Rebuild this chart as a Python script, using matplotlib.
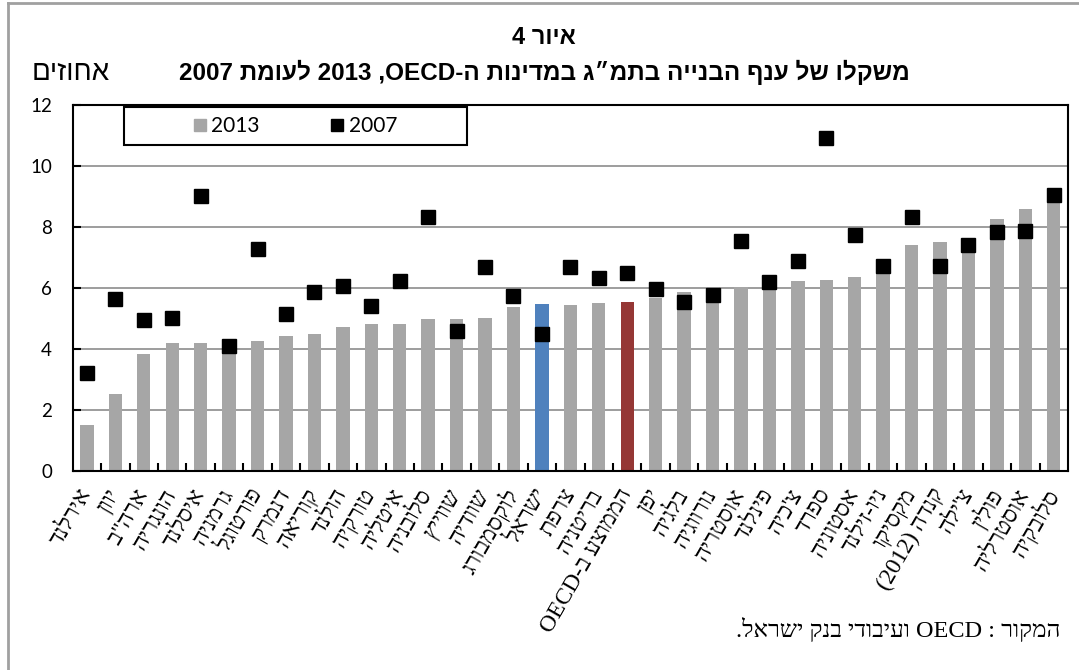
import re
import matplotlib
matplotlib.use('Agg')
import matplotlib.pyplot as plt
from matplotlib.lines import Line2D
from matplotlib.patches import Rectangle

# visual order for hebrew text (matplotlib has no bidi)
def vis(s):
    toks = re.findall(r'[A-Za-z0-9]+|.', s)
    mirror = {'(': ')', ')': '('}
    return ''.join(mirror.get(t, t) for t in reversed(toks))

countries = ['אירלנד', 'יוון', 'ארה"ב', 'הונגריה', 'איסלנד', 'גרמניה', 'פורטוגל',
             'דנמרק', 'קוריאה', 'הולנד', 'טורקיה', 'איטליה', 'סלובניה', 'שווייץ',
             'שוודיה', 'לוקסמבורג', 'ישראל', 'צרפת', 'בריטניה', 'הממוצע ב-OECD',
             'יפן', 'בלגיה', 'נורווגיה', 'אוסטריה', 'פינלנד', "צ'כיה", 'ספרד',
             'אסטוניה', 'ניו-זילנד', 'מקסיקו', 'קנדה (2012)', "צ'ילה", 'פולין',
             'אוסטרליה', 'סלובקיה']
val_2013 = [1.50, 2.52, 3.85, 4.19, 4.19, 4.22, 4.26, 4.44, 4.50, 4.71, 4.82, 4.83,
            4.98, 4.99, 5.02, 5.39, 5.48, 5.45, 5.51, 5.54, 5.68, 5.86, 6.03, 6.04,
            6.15, 6.25, 6.28, 6.38, 6.60, 7.43, 7.52, 7.60, 8.27, 8.59, 8.95]
val_2007 = [3.20, 5.63, 4.97, 5.01, 9.01, 4.09, 7.30, 5.14, 5.89, 6.07, 5.43, 6.22,
            8.32, 4.61, 6.71, 5.73, 4.51, 6.68, 6.35, 6.51, 5.96, 5.53, 5.76, 7.55,
            6.19, 6.90, 10.94, 7.73, 6.74, 8.35, 6.74, 7.43, 7.83, 7.86, 9.06]
yticks = [0, 2, 4, 6, 8, 10, 12]

gray = '#a6a6a6'
colors = [gray] * len(countries)
colors[countries.index('ישראל')] = '#4f81bd'
colors[countries.index('הממוצע ב-OECD')] = '#953735'

heb_sans = ['Liberation Sans', 'DejaVu Sans']
heb_serif = ['Liberation Serif', 'DejaVu Serif']

fig = plt.figure(figsize=(10.79, 6.70), dpi=100)
ax = fig.add_axes([0.0674, 0.2970, 0.9224, 0.5458])

x = list(range(len(countries)))
ax.bar(x, val_2013, width=0.47, color=colors, zorder=2)
ax.plot(x, val_2007, ls='none', marker='s', markersize=10, color='black', zorder=3)

ax.set_xlim(-0.5, len(countries) - 0.5)
ax.set_ylim(0, 12)
ax.set_yticks(yticks)
ax.set_yticklabels([str(v) for v in yticks], fontfamily='Lato', fontsize=13.5)
ax.yaxis.grid(True, color='#8c8c8c', lw=1.2, zorder=1)
ax.tick_params(axis='y', direction='in', length=6, width=1.5, pad=15)

ax.set_xticks(x)
ax.set_xticklabels([vis(c) for c in countries], rotation=60, ha='right', va='center',
                   rotation_mode='anchor', family=heb_serif, fontsize=17)
ax.tick_params(axis='x', which='major', length=0, pad=14)
ax.set_xticks([i - 0.5 for i in x[1:]], minor=True)
ax.tick_params(axis='x', which='minor', direction='in', length=6, width=1.5)
for s in ax.spines.values():
    s.set_linewidth(1.5)
    s.set_color('black')

# legend box
ax.add_patch(Rectangle((0.0515, 0.891), 0.3445, 0.104, transform=ax.transAxes,
                       fill=True, facecolor='white', edgecolor='black', lw=1.5, zorder=4))
handles = [Line2D([], [], ls='none', marker='s', markersize=8, color=gray),
           Line2D([], [], ls='none', marker='s', markersize=8, color='black')]
ax.legend(handles, ['2013', '2007'], ncol=2, frameon=False, loc='center',
          bbox_to_anchor=(0.0515 + 0.3445 / 2, 0.891 + 0.052), bbox_transform=ax.transAxes,
          prop={'family': 'Lato', 'size': 15}, handlelength=0.6, handletextpad=0.25,
          columnspacing=3.4)

fig.text(544 / 1079, 1 - 38 / 670, vis('איור 4'), ha='center', va='center',
         family=heb_sans, fontsize=17, fontweight='bold')
fig.text(544 / 1079, 1 - 72 / 670, vis('משקלו של ענף הבנייה בתמ״ג במדינות ה-OECD, 2013 לעומת 2007'),
         ha='center', va='center', family=heb_sans, fontsize=17.5, fontweight='bold')
fig.text(71 / 1079, 1 - 73 / 670, vis('אחוזים'), ha='center', va='center',
         family=heb_sans, fontsize=20)
fig.text(1060 / 1079, 1 - 630 / 670, vis('המקור : OECD ועיבודי בנק ישראל.'),
         ha='right', va='center', family=heb_serif, fontsize=17.5)

# outer frame
fig.add_artist(Line2D([8 / 1079, 8 / 1079], [0, 1 - 3 / 670], transform=fig.transFigure,
                      color='#a0a0a0', lw=2))
fig.add_artist(Line2D([8 / 1079, 1], [1 - 3 / 670, 1 - 3 / 670], transform=fig.transFigure,
                      color='#a0a0a0', lw=2))

fig.savefig('out.png', dpi=100)
